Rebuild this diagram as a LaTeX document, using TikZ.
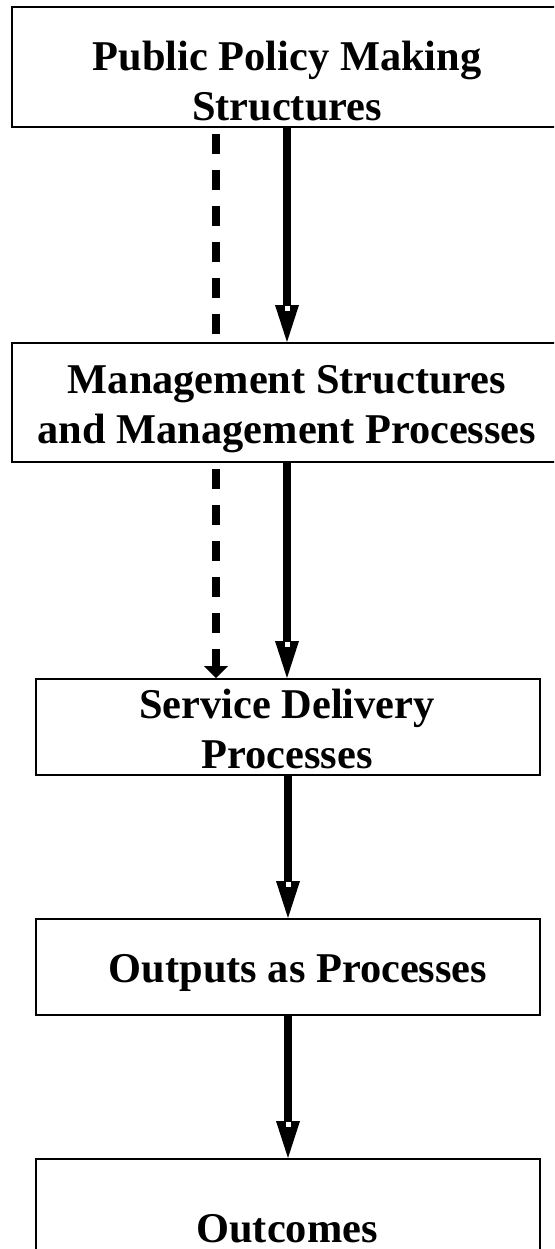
\documentclass[tikz,border=0pt]{standalone}
\usepackage{fontspec}
\setmainfont{Liberation Serif}
\usetikzlibrary{arrows.meta}

\tikzset{
  box/.style={draw, line width=1pt, rectangle, inner sep=0pt},
  txt/.style={anchor=base, inner sep=0pt, font=\fontsize{21.2}{25}\selectfont\bfseries},
  flow/.style={line width=4pt, -{Triangle[length=18.5pt, width=12pt, line width=0pt]}},
  hint/.style={line width=4pt, dash pattern=on 10pt off 8pt, dash phase=15pt},
}

\begin{document}
\begin{tikzpicture}[x=0.5pt, y=-0.5pt]
  \useasboundingbox (0,0) rectangle (554,1249);
  \clip (0,0) rectangle (554,1249);

  \node[box, minimum width=275pt, minimum height=60pt] (b1) at (287,67) {};
  \node[box, minimum width=275pt, minimum height=59.5pt] (b2) at (287,402.5) {};
  \node[box, minimum width=252pt, minimum height=48pt] (b3) at (288,727) {};
  \node[box, minimum width=252pt, minimum height=48pt] (b4) at (288,967) {};
  \node[box, minimum width=252pt, minimum height=48pt] (b5) at (288,1207) {};

  \node[txt] (t1a) at (287,70) {Public Policy Making};
  \node[txt] (t1b) at (287,120) {Structures};
  \node[txt] (t2a) at (287,393) {Management Structures};
  \node[txt] (t2b) at (287,443) {and Management Processes};
  \node[txt] (t3a) at (287,718) {Service Delivery};
  \node[txt] (t3b) at (287,768) {Processes};
  \node[txt] (t4) at (298,982) {Outputs as Processes};
  \node[txt] (t5) at (287,1242) {Outcomes};

  \foreach \a/\b in {b1/b2, b2/b3, b3/b4, b4/b5} {
    \draw[flow] (\a.south) -- (\a.south |- \b.north);
    \fill[white] ([xshift=-1.25pt, yshift=18pt]\a.south |- \b.north) rectangle +(5,5);
  }

  \draw[hint] ([xshift=-35.5pt]b1.south) -- ([xshift=-35.5pt]b1.south |- b2.north);
  \draw[hint, -{Triangle[length=6pt, width=12pt, line width=0pt]}]
    ([xshift=-35.5pt]b2.south) -- ([xshift=-35.5pt]b2.south |- b3.north);
\end{tikzpicture}
\end{document}
